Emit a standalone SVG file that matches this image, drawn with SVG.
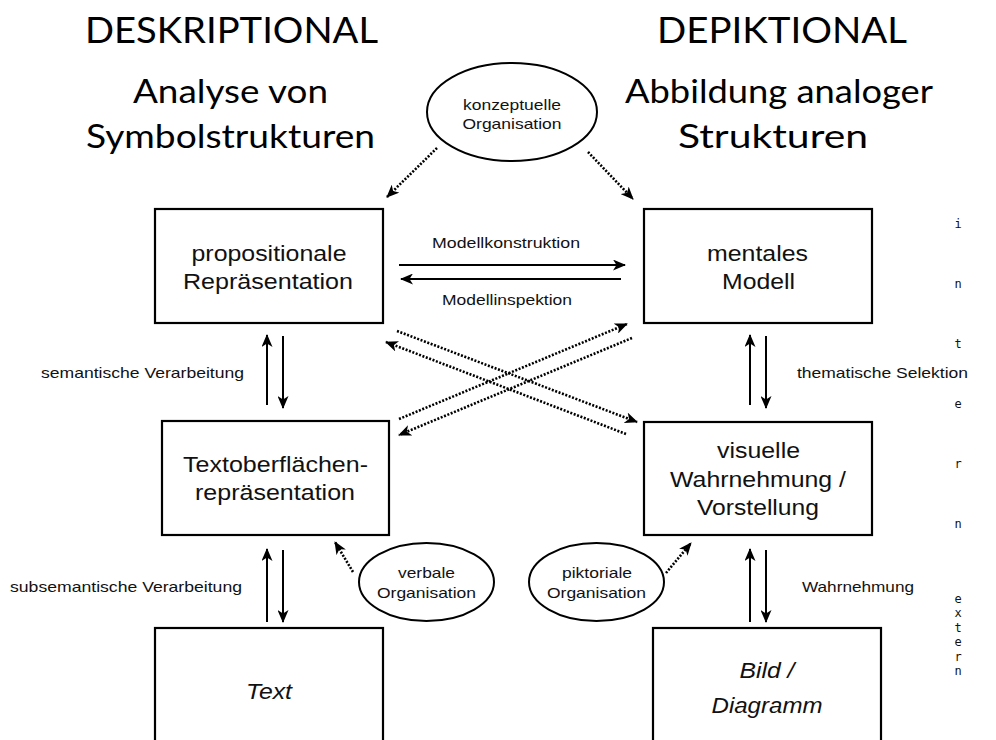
<svg xmlns="http://www.w3.org/2000/svg" width="996" height="740" viewBox="0 0 996 740">
  <style>
    .title { font-family: Lato, "Open Sans", sans-serif; font-size: 36px; fill: #000; text-anchor: middle; }
    .sub { font-family: Lato, "Open Sans", sans-serif; font-size: 32px; fill: #000; text-anchor: middle; }
    .box { fill: #fff; stroke: #000; stroke-width: 2.2; }
    .oval { fill: #fff; stroke: #000; stroke-width: 2; }
    .bt { font-family: "Liberation Sans", Arial, sans-serif; font-size: 21.5px; fill: #111; text-anchor: middle; }
    .bi { font-family: "Liberation Sans", Arial, sans-serif; font-size: 21.5px; font-style: italic; fill: #111; text-anchor: middle; }
    .st { font-family: "Liberation Sans", Arial, sans-serif; font-size: 15px; fill: #111; }
    .mid { text-anchor: middle; }
    .mono { font-family: "DejaVu Sans Mono", "Liberation Mono", monospace; font-size: 12px; fill: #111; text-anchor: middle; }
    .solid { fill: none; stroke: #000; stroke-width: 2; marker-end: url(#head); }
    .dot { fill: none; stroke: #000; stroke-width: 2.6; stroke-dasharray: 2 1.6; marker-end: url(#head); }
  </style>
  <defs>
    <marker id="head" markerUnits="userSpaceOnUse" markerWidth="13" markerHeight="11" refX="12" refY="5.5" orient="auto">
      <path d="M0,0 L13,5.5 L0,11 L3.5,5.5 Z" fill="#000"/>
    </marker>
  </defs>
  <rect width="996" height="740" fill="#fff"/>

  <!-- column headings -->
  <g id="heading-left">
    <text class="title" x="231.5" y="43" textLength="293" lengthAdjust="spacingAndGlyphs">DESKRIPTIONAL</text>
    <text class="sub" x="230.5" y="103" textLength="195" lengthAdjust="spacingAndGlyphs">Analyse von</text>
    <text class="sub" x="230.5" y="148" textLength="289" lengthAdjust="spacingAndGlyphs">Symbolstrukturen</text>
  </g>
  <g id="heading-right">
    <text class="title" x="782" y="43" textLength="250" lengthAdjust="spacingAndGlyphs">DEPIKTIONAL</text>
    <text class="sub" x="779" y="103" textLength="308" lengthAdjust="spacingAndGlyphs">Abbildung analoger</text>
    <text class="sub" x="773" y="148" textLength="190" lengthAdjust="spacingAndGlyphs">Strukturen</text>
  </g>

  <!-- connectors -->
  <g id="connectors">
    <!-- conceptual organisation -->
    <line class="dot" x1="437" y1="148" x2="387" y2="197"/>
    <line class="dot" x1="588" y1="152" x2="633" y2="199"/>
    <!-- model construction / inspection -->
    <line class="solid" x1="399" y1="265" x2="625" y2="265"/>
    <line class="solid" x1="621" y1="279" x2="401" y2="279"/>
    <!-- crossing links -->
    <line class="dot" x1="397" y1="331" x2="637" y2="422"/>
    <line class="dot" x1="626" y1="434" x2="386" y2="342"/>
    <line class="dot" x1="399" y1="419" x2="627" y2="324"/>
    <line class="dot" x1="632" y1="338" x2="399" y2="435"/>
    <!-- left column -->
    <line class="solid" x1="267" y1="405" x2="267" y2="335"/>
    <line class="solid" x1="283" y1="336" x2="283" y2="408"/>
    <line class="solid" x1="267" y1="622" x2="267" y2="549"/>
    <line class="solid" x1="283" y1="550" x2="283" y2="622"/>
    <!-- right column -->
    <line class="solid" x1="750" y1="405" x2="750" y2="335"/>
    <line class="solid" x1="766" y1="336" x2="766" y2="408"/>
    <line class="solid" x1="750" y1="622" x2="750" y2="549"/>
    <line class="solid" x1="766" y1="550" x2="766" y2="622"/>
    <!-- verbal / pictorial organisation -->
    <line class="dot" x1="353" y1="572" x2="335" y2="542"/>
    <line class="dot" x1="666" y1="573" x2="691" y2="543"/>
  </g>

  <!-- connector labels -->
  <g id="labels">
    <text class="st mid" x="506" y="248" textLength="148" lengthAdjust="spacingAndGlyphs">Modellkonstruktion</text>
    <text class="st mid" x="507" y="305" textLength="130" lengthAdjust="spacingAndGlyphs">Modellinspektion</text>
    <text class="st" x="41" y="378" textLength="203" lengthAdjust="spacingAndGlyphs">semantische Verarbeitung</text>
    <text class="st" x="10" y="592" textLength="232" lengthAdjust="spacingAndGlyphs">subsemantische Verarbeitung</text>
    <text class="st" x="797" y="378" textLength="171" lengthAdjust="spacingAndGlyphs">thematische Selektion</text>
    <text class="st" x="802" y="592" textLength="112" lengthAdjust="spacingAndGlyphs">Wahrnehmung</text>
  </g>

  <g id="konzeptuelle-organisation">
    <ellipse class="oval" cx="512" cy="112" rx="85" ry="49"/>
    <text class="st mid" x="512" y="110" textLength="98" lengthAdjust="spacingAndGlyphs">konzeptuelle</text>
    <text class="st mid" x="512" y="129" textLength="99" lengthAdjust="spacingAndGlyphs">Organisation</text>
  </g>

  <g id="propositionale-repraesentation">
    <rect class="box" x="155" y="209" width="228" height="114"/>
    <text class="bt" x="269" y="261" textLength="155" lengthAdjust="spacingAndGlyphs">propositionale</text>
    <text class="bt" x="268" y="289" textLength="170" lengthAdjust="spacingAndGlyphs">Repräsentation</text>
  </g>

  <g id="mentales-modell">
    <rect class="box" x="644" y="209" width="228" height="114"/>
    <text class="bt" x="757.5" y="261" textLength="101" lengthAdjust="spacingAndGlyphs">mentales</text>
    <text class="bt" x="758.5" y="289" textLength="73" lengthAdjust="spacingAndGlyphs">Modell</text>
  </g>

  <g id="textoberflaechen-repraesentation">
    <rect class="box" x="162" y="421" width="227" height="114"/>
    <text class="bt" x="275.5" y="472" textLength="185" lengthAdjust="spacingAndGlyphs">Textoberflächen-</text>
    <text class="bt" x="275" y="500" textLength="160" lengthAdjust="spacingAndGlyphs">repräsentation</text>
  </g>

  <g id="visuelle-wahrnehmung">
    <rect class="box" x="644" y="422" width="228" height="113"/>
    <text class="bt" x="758.5" y="458" textLength="83" lengthAdjust="spacingAndGlyphs">visuelle</text>
    <text class="bt" x="758" y="487" textLength="176" lengthAdjust="spacingAndGlyphs">Wahrnehmung /</text>
    <text class="bt" x="758" y="515" textLength="122" lengthAdjust="spacingAndGlyphs">Vorstellung</text>
  </g>

  <g id="verbale-organisation">
    <ellipse class="oval" cx="426.5" cy="582" rx="67.5" ry="39"/>
    <text class="st mid" x="426.5" y="578" textLength="57" lengthAdjust="spacingAndGlyphs">verbale</text>
    <text class="st mid" x="426.5" y="598" textLength="99" lengthAdjust="spacingAndGlyphs">Organisation</text>
  </g>

  <g id="piktoriale-organisation">
    <ellipse class="oval" cx="596.5" cy="582" rx="67.5" ry="39"/>
    <text class="st mid" x="597" y="578" textLength="70" lengthAdjust="spacingAndGlyphs">piktoriale</text>
    <text class="st mid" x="596.5" y="598" textLength="99" lengthAdjust="spacingAndGlyphs">Organisation</text>
  </g>

  <g id="text">
    <rect class="box" x="155" y="628" width="228" height="150"/>
    <text class="bi" x="269" y="699" textLength="46" lengthAdjust="spacingAndGlyphs">Text</text>
  </g>

  <g id="bild-diagramm">
    <rect class="box" x="653" y="628" width="228" height="150"/>
    <text class="bi" x="767" y="678" textLength="55" lengthAdjust="spacingAndGlyphs">Bild /</text>
    <text class="bi" x="767" y="713" textLength="111" lengthAdjust="spacingAndGlyphs">Diagramm</text>
  </g>

  <!-- side markers: intern / extern -->
  <g id="intern">
    <text class="mono" x="958" y="228">i</text>
    <text class="mono" x="958" y="288">n</text>
    <text class="mono" x="958" y="348">t</text>
    <text class="mono" x="958" y="408">e</text>
    <text class="mono" x="958" y="468">r</text>
    <text class="mono" x="958" y="528">n</text>
  </g>
  <g id="extern">
    <text class="mono" x="958" y="603">e</text>
    <text class="mono" x="958" y="617">x</text>
    <text class="mono" x="958" y="632">t</text>
    <text class="mono" x="958" y="646">e</text>
    <text class="mono" x="958" y="661">r</text>
    <text class="mono" x="958" y="675">n</text>
  </g>
</svg>
